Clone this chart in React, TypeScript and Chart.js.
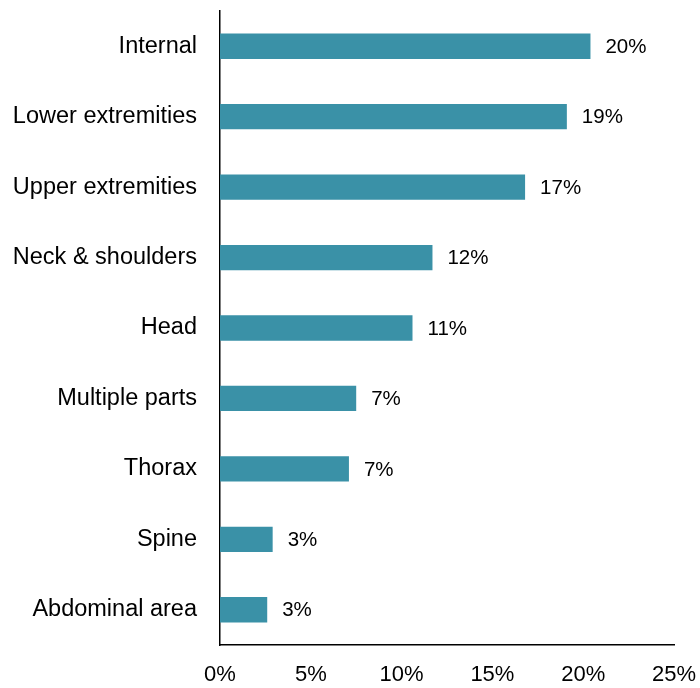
import { useEffect, useRef } from 'react'
import { Chart, registerables } from 'chart.js'

Chart.register(...registerables)

const CATEGORIES = [
  'Internal',
  'Lower extremities',
  'Upper extremities',
  'Neck & shoulders',
  'Head',
  'Multiple parts',
  'Thorax',
  'Spine',
  'Abdominal area',
]
const SHARES = [20.4, 19.1, 16.8, 11.7, 10.6, 7.5, 7.1, 2.9, 2.6]
const SHARE_LABELS = ['20%', '19%', '17%', '12%', '11%', '7%', '7%', '3%', '3%']
const X_TICKS = [0, 5, 10, 15, 20, 25]

const BAR_COLOR = '#3a91a7'
const FONT = 'Arial, "Liberation Sans", sans-serif'

const valueLabels = {
  id: 'valueLabels',
  afterDatasetsDraw(chart: Chart) {
    const ctx = chart.ctx
    const meta = chart.getDatasetMeta(0)
    ctx.save()
    ctx.font = `20.5px ${FONT}`
    ctx.fillStyle = '#000'
    ctx.textAlign = 'left'
    ctx.textBaseline = 'middle'
    meta.data.forEach((bar: any, i: number) => {
      ctx.fillText(SHARE_LABELS[i], bar.x + 15, bar.y + 1)
    })
    ctx.restore()
  },
}

export default function App() {
  const canvasRef = useRef<HTMLCanvasElement>(null)

  useEffect(() => {
    if (!canvasRef.current) return
    const chart = new Chart(canvasRef.current, {
      type: 'bar',
      data: {
        labels: CATEGORIES,
        datasets: [{
          data: SHARES,
          backgroundColor: BAR_COLOR,
          categoryPercentage: 1,
          barPercentage: 0.36,
        }],
      },
      options: {
        indexAxis: 'y',
        animation: false,
        responsive: true,
        maintainAspectRatio: false,
        layout: { padding: { top: 11, right: 26, left: 0, bottom: 0 } },
        plugins: { legend: { display: false }, tooltip: { enabled: false } },
        scales: {
          x: {
            min: 0,
            max: 25,
            afterBuildTicks: (scale: any) => { scale.ticks = X_TICKS.map(v => ({ value: v })) },
            afterFit: (scale: any) => {
              scale.height = 43
              scale.paddingLeft = 0
              scale.paddingRight = 0
            },
            grid: { display: false, drawTicks: false },
            border: { display: true, color: '#000', width: 1.5 },
            ticks: {
              callback: (v: any) => v + '%',
              color: '#000',
              font: { size: 22, family: FONT },
              padding: 17,
              maxRotation: 0,
            },
          },
          y: {
            afterFit: (scale: any) => {
              scale.width = 220
              scale.paddingTop = 0
              scale.paddingBottom = 0
            },
            grid: { display: false, drawTicks: false },
            border: { display: true, color: '#000', width: 1.5 },
            ticks: {
              color: '#000',
              font: { size: 23.5, family: FONT },
              padding: 23,
            },
          },
        },
      },
      plugins: [valueLabels],
    })
    return () => { chart.destroy() }
  }, [])

  return (
    <div style={{ position: 'fixed', left: 0, top: 0, width: 700, height: 688, background: '#fff' }}>
      <canvas ref={canvasRef} />
    </div>
  )
}
